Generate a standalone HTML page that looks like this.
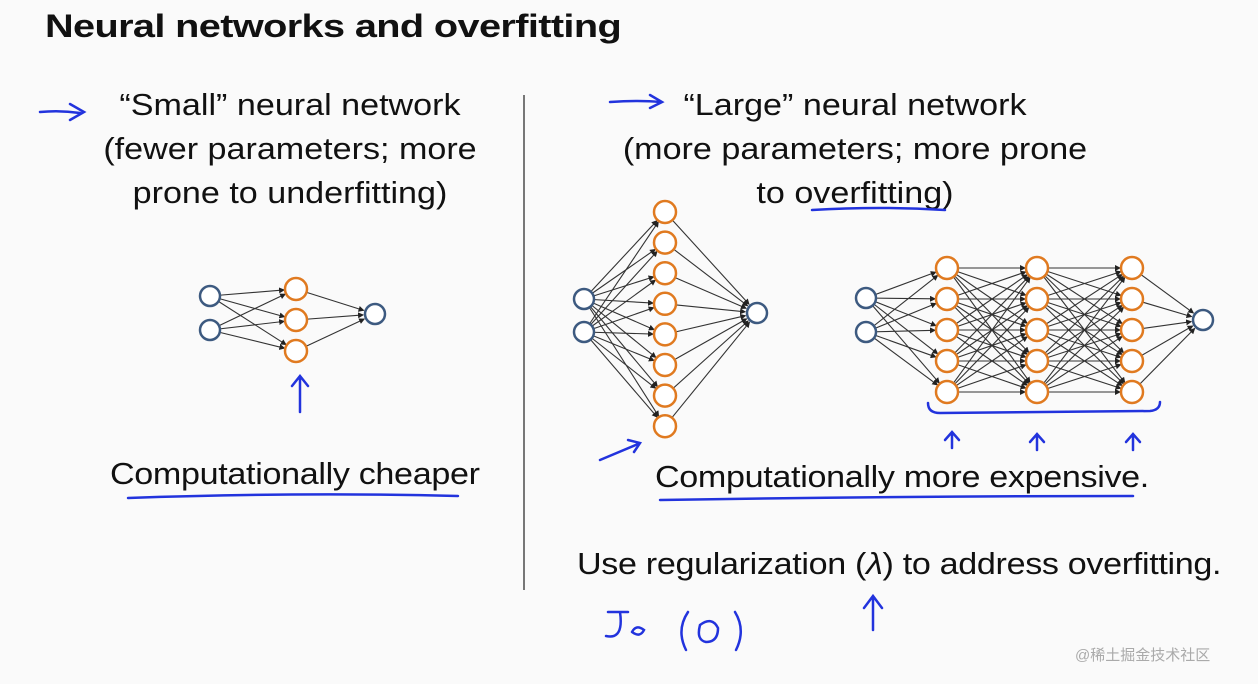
<!DOCTYPE html>
<html><head><meta charset="utf-8"><style>
html,body{margin:0;padding:0;background:#fafafa;}
#c{position:relative;width:1258px;height:684px;overflow:hidden;background:#fafafa;font-family:"Liberation Sans",sans-serif;color:#111;}
.t{position:absolute;white-space:nowrap;transform-origin:left top;}
.s{font-size:31px;transform:scaleX(1.1);}
</style></head><body><div id="c">
<div class="t" style="left:45px;top:8px;font-size:32px;font-weight:bold;letter-spacing:-0.5px;transform:scaleX(1.24)">Neural networks and overfitting</div>
<div class="t" style="left:80px;width:420px;top:83px;font-size:31px;line-height:44px;text-align:center;transform:scaleX(1.1);transform-origin:center top">“Small” neural network<br>(fewer parameters; more<br>prone to underfitting)</div>
<div class="t" style="left:600px;width:510px;top:83px;font-size:31px;line-height:44px;text-align:center;transform:scaleX(1.1);transform-origin:center top">“Large” neural network<br>(more parameters; more prone<br>to overfitting)</div>
<div class="t s" style="left:110px;top:456px;letter-spacing:-0.3px">Computationally cheaper</div>
<div class="t s" style="left:655px;top:459px;letter-spacing:-0.3px">Computationally more expensive.</div>
<div class="t s" style="left:577px;top:546px;letter-spacing:-0.3px">Use regularization (<i>λ</i>) to address overfitting.</div>
<div class="t" style="left:1075px;top:644px;font-size:15px;color:#aaa;font-family:'Liberation Sans','Noto Sans CJK SC',sans-serif">@稀土掘金技术社区</div>
<svg id="s" width="1258" height="684" style="position:absolute;left:0;top:0">
<defs><marker id="ah" markerWidth="6" markerHeight="6" refX="5" refY="3" orient="auto" markerUnits="userSpaceOnUse"><path d="M0 0 L6 3 L0 6 Z" fill="#222"/></marker></defs>
<line x1="524" y1="95" x2="524" y2="590" stroke="#777" stroke-width="2"/>
<g fill="none" stroke="#2233dd" stroke-width="2.5" stroke-linecap="round">
<path d="M40 112 Q60 110 80 113 M70 104 L84 112 L70 120"/>
<path d="M610 102 Q640 100 660 102 M650 95 L662 102 L650 108"/>
<path d="M128 498 Q300 492 458 496"/>
<path d="M812 210 Q880 206 945 210"/>
<path d="M660 500 Q900 496 1133 496"/>
<path d="M300 412 L300 378 M292 386 L300 376 L308 386"/>
<path d="M600 460 L638 444 M628 440 L640 443 L634 452"/>
<path d="M928 403 Q928 413 940 413 L1150 411 Q1160 410 1160 402"/>
<path d="M952 448 L952 432 M945 440 L952 432 L959 440"/>
<path d="M1037 450 L1037 434 M1030 442 L1037 434 L1044 442"/>
<path d="M1133 450 L1133 434 M1126 442 L1133 434 L1140 442"/>
<path d="M873 630 L873 598 M864 608 L873 596 L882 608"/>
<path d="M608 612 L628 612 M620 612 Q624 640 606 636"/>
<path d="M632 632 Q636 624 644 630 Q640 638 632 632"/>
<path d="M688 612 Q676 630 686 650 M700 625 Q712 616 718 628 Q718 642 706 642 Q696 640 700 625 Z M735 612 Q746 630 736 650"/>
</g>
</svg>
<script>
var s=document.getElementById('s'),NS='http://www.w3.org/2000/svg';
var lines=document.createElementNS(NS,'g'),nodes=document.createElementNS(NS,'g');
s.appendChild(lines);s.appendChild(nodes);
function ln(a,b){var d=Math.hypot(b[0]-a[0],b[1]-a[1]);var l=document.createElementNS(NS,'line');l.setAttribute('x1',a[0]);l.setAttribute('y1',a[1]);l.setAttribute('x2',b[0]-(b[0]-a[0])*12/d);l.setAttribute('y2',b[1]-(b[1]-a[1])*12/d);l.setAttribute('stroke','#333');l.setAttribute('stroke-width','1.1');l.setAttribute('marker-end','url(#ah)');lines.appendChild(l);}
function nd(p,c){var e=document.createElementNS(NS,'circle');e.setAttribute('cx',p[0]);e.setAttribute('cy',p[1]);e.setAttribute('r',c?11:10);e.setAttribute('fill','#fff');e.setAttribute('stroke',c?'#e07a20':'#3d5a80');e.setAttribute('stroke-width','2.5');nodes.appendChild(e);}
function col(x,ys){return ys.map(function(y){return [x,y];});}
function net(layers){for(var i=0;i<layers.length-1;i++)layers[i].forEach(function(a){layers[i+1].forEach(function(b){ln(a,b);});});
layers.forEach(function(L,i){L.forEach(function(p){nd(p,i>0&&i<layers.length-1);});});}
net([col(210,[296,330]),col(296,[289,320,351]),col(375,[314])]);
var h=[];for(var i=0;i<8;i++)h.push(212+i*30.6);
net([col(584,[299,332]),col(665,h),col(757,[313])]);
var h5=[268,299,330,361,392];
net([col(866,[298,332]),col(947,h5),col(1037,h5),col(1132,h5),col(1203,[320])]);
</script>
</div></body></html>
